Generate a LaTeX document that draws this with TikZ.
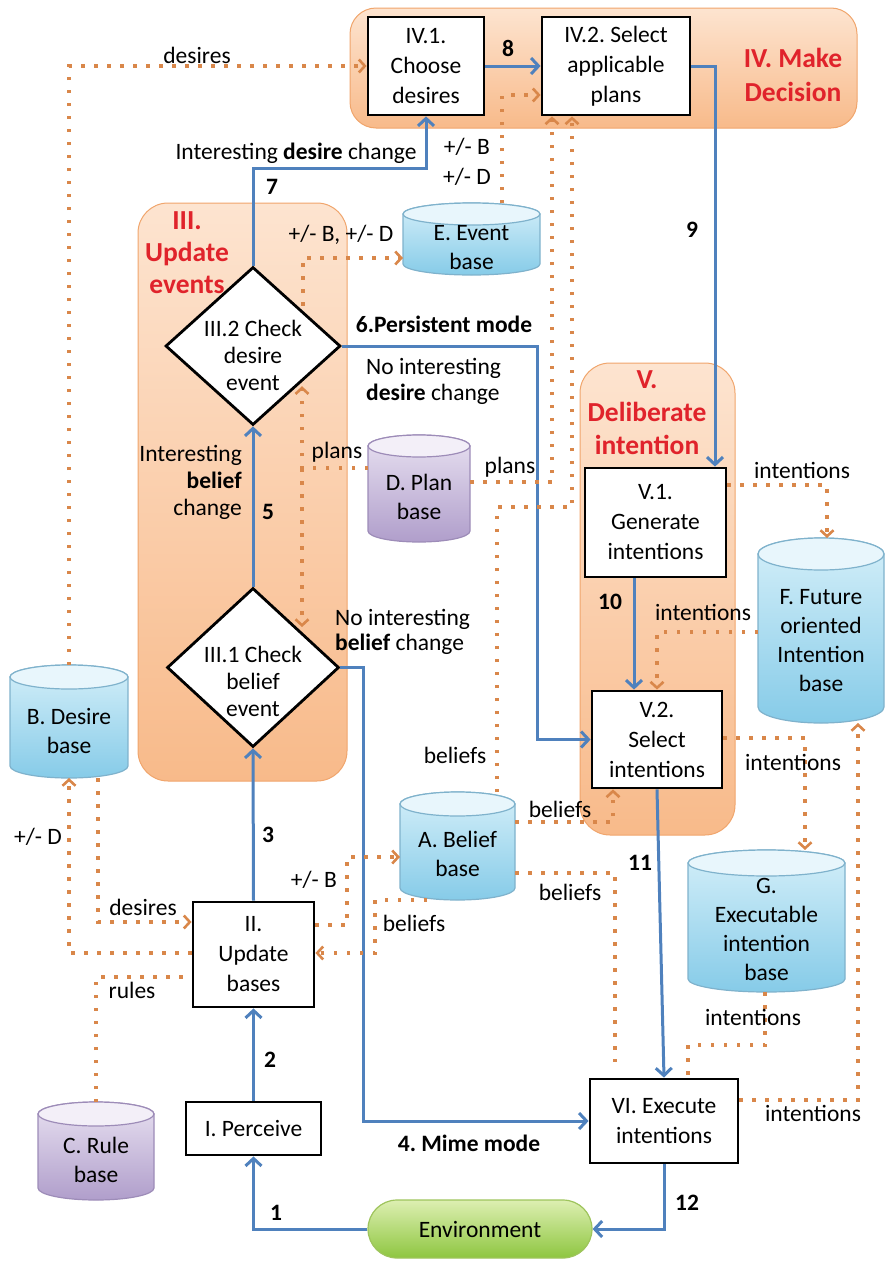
\documentclass[tikz,border=0pt]{standalone}
\usepackage{fontspec}
\setmainfont{Carlito}
\frenchspacing
\usetikzlibrary{arrows.meta,shapes.geometric}
\definecolor{flowblue}{HTML}{4F81BD}
\definecolor{dotorange}{HTML}{D9874A}
\definecolor{titlered}{HTML}{E0232B}
\definecolor{panelT}{HTML}{FDE4D0}
\definecolor{panelB}{HTML}{F8BA8A}
\definecolor{panelline}{HTML}{F0A56C}
\definecolor{cylblueT}{HTML}{D4EFF9}
\definecolor{cylblueB}{HTML}{86CBE8}
\definecolor{cylblueE}{HTML}{E8F6FC}
\definecolor{cylblueline}{HTML}{7FB2CC}
\definecolor{cylpurT}{HTML}{E8E1F1}
\definecolor{cylpurB}{HTML}{B09ECB}
\definecolor{cylpurE}{HTML}{F3EFF8}
\definecolor{cylpurline}{HTML}{9D8CB8}
\definecolor{envT}{HTML}{DDEFB2}
\definecolor{envB}{HTML}{8EC640}
\definecolor{envline}{HTML}{9EC45C}
\newcommand\dbase[9]{%
  \pgfmathsetmacro\dbrx{(#3-#2)/2}%
  \pgfmathsetmacro\dbcx{(#2+#3)/2}%
  \pgfmathsetmacro\dbcy{(#4+#5)/2}%
  \path[draw=#6line, line width=1.2pt, top color=#6T, bottom color=#6B]
    (#2,#4+#9) -- (#2,#5-#9) arc[start angle=180, end angle=0, x radius=\dbrx, y radius=#9]
    -- (#3,#4+#9) arc[start angle=0, end angle=-180, x radius=\dbrx, y radius=#9] -- cycle;
  \path[draw=#6line, line width=1.2pt, fill=#6E] (\dbcx,#4+#9) ellipse[x radius=\dbrx, y radius=#9];
  \node[inner sep=0pt, outer sep=0pt, minimum width=#3-#2, minimum height=#5-#4] (#1) at (\dbcx,\dbcy) {};
  \node[align=center, inner sep=0pt, font=\fontsize{23.5}{29}\selectfont] (#1-t) at (\dbcx,#7) {#8};
}
\begin{document}
\frenchspacing
\begin{tikzpicture}[x=1pt,y=-1pt,font=\fontsize{23.5}{27}\selectfont\frenchspacing,
  flow/.style={draw=flowblue, line width=3pt, -{Straight Barb[length=7.5pt,width=16pt]}},
  dotline/.style={draw=dotorange, line width=3.5pt, dash pattern=on 3.5pt off 9.5pt},
  dtip/.style={-{Straight Barb[length=6pt,width=13pt,line width=2.6pt]}},
  box/.style={draw=black, line width=2.8pt, fill=white, align=center, inner sep=0pt, font=\fontsize{23.5}{30}\selectfont\frenchspacing},
  dia/.style={diamond, draw=black, line width=2.8pt, fill=white, inner sep=0pt},
  lbl/.style={inner sep=1pt, align=center},
  num/.style={inner sep=1pt, font=\fontsize{23.5}{27}\selectfont\bfseries\frenchspacing},
  ttl/.style={text=titlered, align=center, inner sep=0pt},
  panelfill/.style={draw=panelline, line width=1pt, top color=panelT, bottom color=panelB}]
\useasboundingbox (0,0) rectangle (886,1261);
% panels
\path[panelfill, rounded corners=26pt] (350,8) rectangle (857,128);
\path[panelfill, rounded corners=30pt] (138,203) rectangle (347,781);
\path[panelfill, rounded corners=30pt] (580,363) rectangle (735,835);
% titles
\node[ttl, font=\fontsize{27.5}{34}\selectfont\bfseries\frenchspacing] (tIV) at (793,75) {IV. Make\\Decision};
\node[ttl, font=\fontsize{27.5}{32}\selectfont\bfseries] (tIII) at (187,253) {III.\\Update\\events};
\node[ttl, font=\fontsize{27.5}{33}\selectfont\bfseries] (tV) at (647,413) {V.\\Deliberate\\intention};
% databases
\dbase{E}{403}{540}{203}{275}{cylblue}{248}{E. Event\\base}{11}
\dbase{D}{368}{470}{435}{542}{cylpur}{497}{D. Plan\\base}{11}
\dbase{A}{400}{515}{792}{900}{cylblue}{854}{A. Belief\\base}{12}
\dbase{B}{10}{128}{665}{778}{cylblue}{731}{B. Desire\\base}{12}
\dbase{C}{38}{154}{1102}{1200}{cylpur}{1160}{C. Rule\\base}{12}
\dbase{F}{758}{884}{538}{723}{cylblue}{641}{F. Future\\oriented\\Intention\\base}{16}
\dbase{G}{688}{845}{850}{992}{cylblue}{929}{G.\\Executable\\intention\\base}{13}
% boxes
\node[box, minimum width=116, minimum height=98] (IV1) at (426,66) {IV.1.\\Choose\\desires};
\node[box, minimum width=148, minimum height=98] (IV2) at (616,66) {IV.2. Select\\applicable\\plans};
\node[box, minimum width=141, minimum height=109] (V1) at (655.5,522.5) {V.1.\\Generate\\intentions};
\node[box, minimum width=130, minimum height=97] (V2) at (657,739.5) {V.2.\\Select\\intentions};
\node[box, minimum width=121, minimum height=105] (II) at (253.5,954.5) {II.\\Update\\bases};
\node[box, minimum width=135, minimum height=53] (PI) at (253.5,1128.5) {I. Perceive};
\node[box, minimum width=148, minimum height=84] (VI) at (664,1121) {VI. Execute\\intentions};
% diamonds
\node[dia, minimum width=175, minimum height=158] (d2) at (253,346) {};
\node[inner sep=0pt, align=center] (d2t) at (253,355) {III.2 Check\\desire\\event};
\node[dia, minimum width=172, minimum height=159] (d1) at (253,667.5) {};
\node[inner sep=0pt, align=center] (d1t) at (253,681) {III.1 Check\\belief\\event};
% environment
\node[draw=envline, line width=1.2pt, top color=envT, bottom color=envB, rounded corners=29pt, minimum width=224, minimum height=58, inner sep=0pt] (env) at (480,1229) {Environment};
% coordinates
\coordinate (k7) at (253,168);
\coordinate (k9) at (715,66);
\coordinate (k10) at (634,0);
% blue flow
\draw[flow] (env.west) -| (PI.south);
\draw[flow] (PI.north) -- (II.south);
\draw[flow] (II.north) -- (d1.south);
\draw[flow] (d1.east) -- ++(23,0) |- (VI.west);
\draw[flow] (d1.north) -- (d2.south);
\draw[flow] (d2.east) -- ++(196,0) |- (V2.west);
\draw[flow] (d2.north) -- (k7) -| (IV1.south);
\draw[flow] (IV1.east) -- (IV2.west);
\draw[flow] (IV2.east) -- (k9) -- (V1.north -| k9);
\draw[flow] (V1.south -| k10) -- (V2.north -| k10);
\draw[flow] (V2.south) -- (VI.north);
\draw[flow] (VI.south) |- (env.east);
% dotted data flows
\coordinate (pD) at (68,953);
\coordinate (pd2) at (98,922);
\coordinate (pr) at (96,977);
\coordinate (pb1) at (347,925);
\coordinate (pb2) at (347,857);
\coordinate (pa1) at (427,0);
\coordinate (pa3) at (375,953);
\coordinate (pr1) at (497,507);
\coordinate (pr2) at (572,507);
\coordinate (ps1) at (552,482);
\coordinate (pt1) at (302,468);
\coordinate (pu1) at (303,258);
\coordinate (pv1) at (502,95);
\coordinate (pw1) at (827,485);
\coordinate (px1) at (657,632);
\coordinate (py1) at (805,738);
\coordinate (pz1) at (858,1100);
\coordinate (pg1) at (765,1045);
\coordinate (pg2) at (688,1045);
\coordinate (pab1) at (613,822);
\coordinate (pac1) at (615,873);
\coordinate (pac2) at (615,1062);
\draw[dotline, dtip] (B.north) |- (IV1.west);
\draw[dotline, dtip] (II.west |- pD) -| (B.south);
\draw[dotline, dtip] (B.south -| pd2) |- (II.west |- pd2);
\draw[dotline] (C.north) |- (II.west |- pr);
\draw[dotline, dtip] (II.east |- pb1) -- (pb1) -- (pb2) -- (A.west |- pb2);
\draw[dotline, dtip] (A.south -| pa1) -| (pa3) -- (II.east |- pa3);
\draw[dotline, dtip] (A.north -| pr1) -- (pr1) -- (pr2) -- (IV2.south -| pr2);
\draw[dotline, dtip] (D.east |- ps1) -- (ps1) -- (IV2.south -| ps1);
\draw[dotline, dtip] (D.west |- pt1) -- (pt1) -- (pt1 |- d2.south east);
\draw[dotline, dtip] (pt1) -- (pt1 |- d1.north east);
\draw[dotline, dtip] (pu1 |- d2.north east) -- (pu1) -- (E.west |- pu1);
\draw[dotline, dtip] (E.north -| pv1) -- (pv1) -- (IV2.west |- pv1);
\draw[dotline, dtip] (V1.east |- pw1) -- (pw1) -- (F.north -| pw1);
\draw[dotline, dtip] (F.west |- px1) -- (px1) -- (V2.north -| px1);
\draw[dotline, dtip] (V2.east |- py1) -- (py1) -- (G.north -| py1);
\draw[dotline, dtip] (VI.east |- pz1) -- (pz1) -- (F.south -| pz1);
\draw[dotline] (G.south -| pg1) -- (pg1) -- (pg2) -- (VI.north -| pg2);
\draw[dotline, dtip] (A.east |- pab1) -- (pab1) -- (V2.south -| pab1);
\draw[dotline] (A.east |- pac1) -- (pac1) -- (pac2);
% labels
\node[lbl] (l1) at (197,55) {desires};
\node[lbl] (l2) at (296,153) {Interesting \textbf{desire} change};
\node[num] (n7) at (272,187) {7};
\node[num] (n8) at (508,48) {8};
\node[lbl, font=\fontsize{23.5}{30}\selectfont] (l3) at (467,162) {+/- B\\+/- D};
\node[lbl] (l4) at (341,235) {+/- B, +/- D};
\node[num] (n9) at (692,230) {9};
\node[num] (n6) at (444,324) {6.Persistent mode};
\node[lbl, align=left, anchor=west, font=\fontsize{23.5}{26}\selectfont] (l5) at (365,381) {No interesting\\\textbf{desire} change};
\node[lbl] (l6) at (337,452) {plans};
\node[lbl] (l7) at (510,467) {plans};
\node[lbl, align=right, anchor=east] (l8) at (243,482) {Interesting\\\textbf{belief}\\change};
\node[num] (n5) at (268,512) {5};
\node[lbl, align=left, anchor=west, font=\fontsize{23.5}{25}\selectfont] (l9) at (334,632) {No interesting\\\textbf{belief} change};
\node[lbl] (l10) at (802,470) {intentions};
\node[num] (n10) at (610,602) {10};
\node[lbl] (l11) at (703,612) {intentions};
\node[lbl] (l12) at (455,755) {beliefs};
\node[lbl] (l13) at (793,762) {intentions};
\node[lbl] (l14) at (560,809) {beliefs};
\node[lbl] (l15) at (38,837) {+/- D};
\node[num] (n3) at (268,835) {3};
\node[num] (n11) at (640,863) {11};
\node[lbl] (l16) at (314,880) {+/- B};
\node[lbl] (l17) at (570,892) {beliefs};
\node[lbl] (l18) at (143,907) {desires};
\node[lbl] (l19) at (414,923) {beliefs};
\node[lbl] (l20) at (132,990) {rules};
\node[lbl] (l21) at (753,1017) {intentions};
\node[num] (n2) at (270,1060) {2};
\node[lbl] (l22) at (813,1113) {intentions};
\node[num] (n4) at (469,1143) {4. Mime mode};
\node[num] (n1) at (276,1213) {1};
\node[num] (n12) at (687,1203) {12};
\end{tikzpicture}
\end{document}
